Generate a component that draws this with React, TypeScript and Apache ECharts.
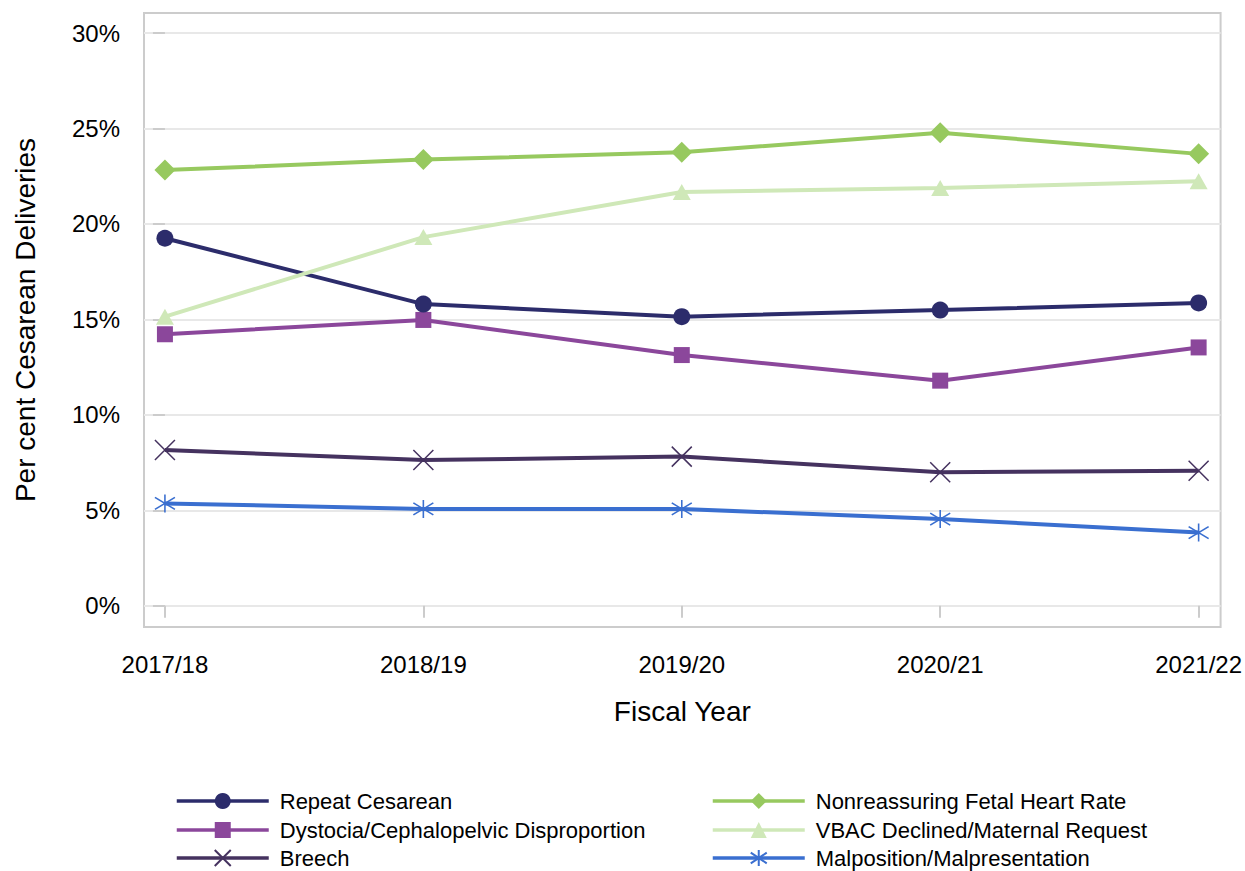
import React, { useEffect, useRef } from "react";
import * as echarts from "echarts";

const categories = ["2017/18", "2018/19", "2019/20", "2020/21", "2021/22"];
const yTicks = [0, 5, 10, 15, 20, 25, 30];

const repeatCesarean = [19.25, 15.8, 15.14, 15.49, 15.86];
const dystocia = [14.22, 14.97, 13.13, 11.79, 13.53];
const breech = [8.16, 7.63, 7.81, 6.99, 7.07];
const nonreassuring = [22.82, 23.37, 23.75, 24.78, 23.67];
const vbac = [15.14, 19.31, 21.67, 21.88, 22.23];
const malposition = [5.36, 5.07, 5.07, 4.54, 3.83];

const legendLeftColumn = ["Repeat Cesarean", "Dystocia/Cephalopelvic Disproportion", "Breech"];
const legendRightColumn = [
  "Nonreassuring Fetal Heart Rate",
  "VBAC Declined/Maternal Request",
  "Malposition/Malpresentation",
];

const FONT = "'Liberation Sans', Arial, sans-serif";

const toPoints = (arr: number[]) => arr.map((v, i) => [i, v]);

export default function App() {
  const ref = useRef<HTMLDivElement>(null);
  useEffect(() => {
    if (!ref.current) return;
    const chart = echarts.init(ref.current, undefined, { renderer: "svg" });
    const lineSeries = (
      name: string,
      data: number[],
      color: string,
      symbol: string,
      symbolSize: any,
      extraItem: any = {}
    ) => ({
      name,
      type: "line",
      data: toPoints(data),
      symbol,
      symbolSize,
      showAllSymbol: true,
      lineStyle: { color, width: 4 },
      itemStyle: { color, ...extraItem },
      emphasis: { disabled: true },
    });
    const crossPath = "path://M0 0L20 20M20 0L0 20";
    const starPath = "path://M10 0L10 18M0 3L20 15M20 3L0 15";
    const rowTops = [790, 819, 847];
    const makeLegend = (name: string, left: number, top: number) => ({
      orient: "horizontal",
      itemWidth: 92,
      itemHeight: 20,
      padding: 0,
      left,
      top,
      data: [name],
      lineStyle: { width: 3.5 },
      textStyle: {
        fontFamily: FONT,
        fontSize: 22,
        color: "#000",
        padding: [0, 0, 0, 6],
      },
    });
    const legends = [
      ...legendLeftColumn.map((n, i) => makeLegend(n, 175, rowTops[i])),
      ...legendRightColumn.map((n, i) => makeLegend(n, 711, rowTops[i])),
    ];
    chart.setOption({
      animation: false,
      backgroundColor: "#fff",
      grid: {
        left: 144,
        right: 23,
        top: 13,
        bottom: 244,
        show: true,
        borderColor: "#cccccc",
        borderWidth: 2,
        backgroundColor: "transparent",
      },
      legend: legends,
      xAxis: {
        type: "value",
        min: -0.081,
        max: 4.085,
        name: "Fiscal Year",
        nameLocation: "middle",
        nameGap: 70,
        nameTextStyle: { fontFamily: FONT, fontSize: 28, color: "#000" },
        axisLine: { show: false },
        axisTick: {
          show: true,
          length: 12,
          customValues: [0, 1, 2, 3, 4],
          lineStyle: { color: "#cccccc", width: 2 },
        },
        axisLabel: {
          customValues: [0, 1, 2, 3, 4],
          formatter: (v: number) => categories[Math.round(v)] ?? "",
          fontFamily: FONT,
          fontSize: 24,
          color: "#000",
          margin: 25,
        },
        splitLine: { show: false },
      },
      yAxis: {
        type: "value",
        min: -1.116,
        max: 31.05,
        name: "Per cent Cesarean Deliveries",
        nameLocation: "middle",
        nameGap: 105,
        nameRotate: 90,
        nameTextStyle: { fontFamily: FONT, fontSize: 28, color: "#000" },
        axisLine: { show: false },
        axisTick: {
          show: true,
          length: 12,
          customValues: yTicks,
          lineStyle: { color: "#cccccc", width: 2 },
        },
        axisLabel: {
          customValues: yTicks,
          formatter: (v: number) => `${Math.round(v)}%`,
          fontFamily: FONT,
          fontSize: 24,
          color: "#000",
          margin: 24,
        },
        splitLine: { show: true, lineStyle: { color: "#e8e8e8", width: 2 } },
      },
      series: [
        lineSeries("Malposition/Malpresentation", malposition, "#3a6fd0", starPath, [20, 18], {
          borderColor: "#3a6fd0",
          borderWidth: 1.5,
        }),
        lineSeries("Breech", breech, "#45325f", crossPath, 20, {
          borderColor: "#45325f",
          borderWidth: 1.5,
        }),
        lineSeries("Dystocia/Cephalopelvic Disproportion", dystocia, "#8b479b", "rect", 16),
        lineSeries("Repeat Cesarean", repeatCesarean, "#2c2c6b", "circle", 17),
        lineSeries("VBAC Declined/Maternal Request", vbac, "#cfe8b8", "triangle", [18, 16]),
        lineSeries("Nonreassuring Fetal Heart Rate", nonreassuring, "#97c95f", "diamond", 21),
      ],
    });
    return () => chart.dispose();
  }, []);
  return (
    <div
      ref={ref}
      style={{ position: "fixed", left: 0, top: 0, width: 1245, height: 871, background: "#fff" }}
    />
  );
}
